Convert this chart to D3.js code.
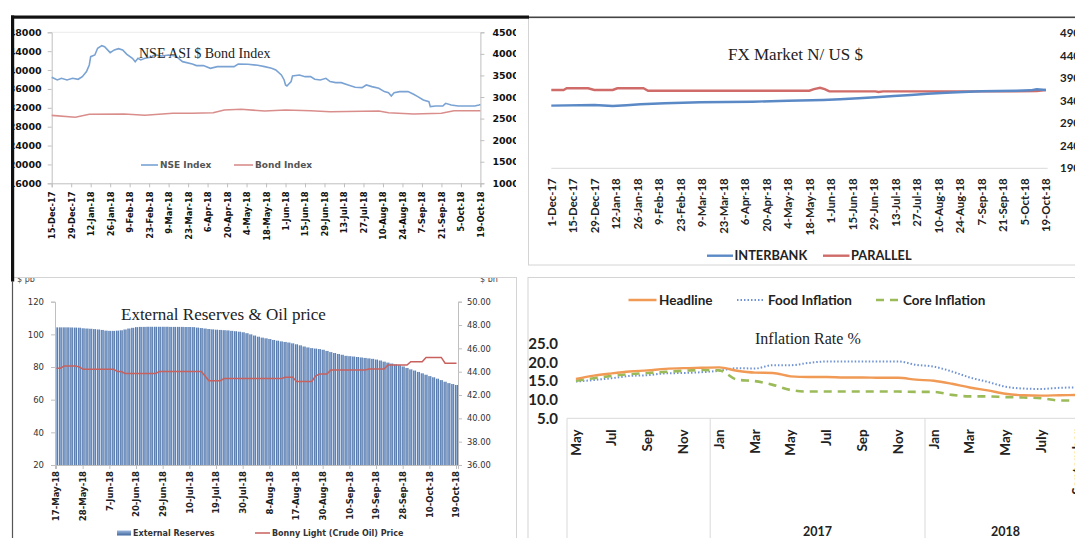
<!DOCTYPE html>
<html><head><meta charset="utf-8">
<script src="https://cdn.jsdelivr.net/npm/d3@7"></script>
<style>
html,body{margin:0;padding:0;background:#fff;}
svg{display:block;}
</style></head>
<body><svg id="c" width="1075" height="538"></svg>
<script>
// ---------- NSE ASI & Bond index ----------
const nseDates = ["2017-12-15","2017-12-19","2017-12-22","2017-12-26","2017-12-30","2018-01-03","2018-01-06","2018-01-09","2018-01-11","2018-01-12","2018-01-15","2018-01-17","2018-01-20","2018-01-22","2018-01-26","2018-01-29","2018-02-01","2018-02-04","2018-02-07","2018-02-11","2018-02-13","2018-02-15","2018-02-17","2018-02-20","2018-02-24","2018-02-27","2018-03-04","2018-03-09","2018-03-14","2018-03-19","2018-03-26","2018-03-29","2018-04-03","2018-04-08","2018-04-13","2018-04-18","2018-04-25","2018-04-28","2018-05-05","2018-05-12","2018-05-17","2018-05-22","2018-05-25","2018-05-29","2018-05-31","2018-06-01","2018-06-02","2018-06-05","2018-06-06","2018-06-11","2018-06-15","2018-06-19","2018-06-22","2018-06-26","2018-06-30","2018-07-03","2018-07-07","2018-07-11","2018-07-16","2018-07-21","2018-07-26","2018-07-29","2018-08-02","2018-08-07","2018-08-11","2018-08-14","2018-08-16","2018-08-18","2018-08-22","2018-08-28","2018-09-01","2018-09-04","2018-09-08","2018-09-12","2018-09-13","2018-09-17","2018-09-22","2018-09-24","2018-09-28","2018-10-03","2018-10-10","2018-10-15","2018-10-18","2018-10-19"];
const nseValues = [38460,37900,38250,37900,38250,38040,38600,39670,41080,42840,43200,44610,45170,44960,43690,44260,44540,44260,43340,42490,41780,42490,42140,42490,42700,43200,42980,43200,42980,41780,41290,40940,40940,40370,40720,40720,40720,41290,41220,41010,40720,40370,40020,38960,37900,36840,36630,37550,38750,38960,38600,38600,38040,37900,38250,37550,37330,37330,36840,36340,36270,36840,36490,36130,35430,35210,34510,35210,35430,35430,34860,34370,33660,33310,32250,32390,32390,32950,32600,32390,32390,32390,32600,32700];
const bondDates = ["2017-12-15","2018-01-01","2018-01-11","2018-02-05","2018-02-20","2018-03-12","2018-03-26","2018-04-10","2018-04-18","2018-04-30","2018-05-17","2018-06-01","2018-06-19","2018-07-03","2018-08-07","2018-08-14","2018-09-01","2018-09-21","2018-09-30","2018-10-19"];
const bondValues = [2574,2530,2600,2606,2576,2622,2622,2637,2699,2715,2676,2699,2683,2660,2676,2637,2606,2622,2683,2683];
const nseLeftTicks = [16000,20000,24000,28000,32000,36000,40000,44000,48000];
const nseRightTicks = [1000,1500,2000,2500,3000,3500,4000,4500];
const nseDateTicks = ["15-Dec-17","29-Dec-17","12-Jan-18","26-Jan-18","9-Feb-18","23-Feb-18","9-Mar-18","23-Mar-18","6-Apr-18","20-Apr-18","4-May-18","18-May-18","1-Jun-18","15-Jun-18","29-Jun-18","13-Jul-18","27-Jul-18","10-Aug-18","24-Aug-18","7-Sep-18","21-Sep-18","5-Oct-18","19-Oct-18"];

// ---------- FX market ----------
const interbankDates = ["2017-12-01","2017-12-29","2018-01-10","2018-01-19","2018-01-28","2018-02-13","2018-03-08","2018-04-11","2018-05-04","2018-05-27","2018-06-07","2018-06-19","2018-06-30","2018-07-12","2018-07-23","2018-08-03","2018-08-15","2018-08-26","2018-09-07","2018-09-18","2018-09-30","2018-10-09","2018-10-13","2018-10-19"];
const interbankValues = [329.2,330.7,328.4,330.0,332.2,334.4,336.7,338.0,340.2,341.8,343.3,345.6,347.8,350.7,352.9,355.8,358.0,359.6,361.1,361.8,362.4,363.3,365.5,364.0];
const parallelDates = ["2017-12-01","2017-12-09","2017-12-11","2017-12-25","2017-12-29","2018-01-10","2018-01-13","2018-01-30","2018-02-02","2018-05-18","2018-05-21","2018-05-25","2018-05-28","2018-05-31","2018-06-30","2018-07-02","2018-07-05","2018-09-07","2018-10-13","2018-10-19"];
const parallelValues = [364.0,364.0,367.8,367.8,364.0,364.0,367.8,367.8,362.4,362.4,366.0,369.0,366.0,361.0,361.0,359.5,361.0,361.0,361.5,364.0];
const fxValueTicks = [190,240,290,340,390,440,490];
const fxDateTicks = ["1-Dec-17","15-Dec-17","29-Dec-17","12-Jan-18","26-Jan-18","9-Feb-18","23-Feb-18","9-Mar-18","23-Mar-18","6-Apr-18","20-Apr-18","4-May-18","18-May-18","1-Jun-18","15-Jun-18","29-Jun-18","13-Jul-18","27-Jul-18","10-Aug-18","24-Aug-18","7-Sep-18","21-Sep-18","5-Oct-18","19-Oct-18"];

// ---------- External reserves & oil price (one value per trading day) ----------
const reserveDateTicks = ["17-May-18","28-May-18","7-Jun-18","20-Jun-18","29-Jun-18","10-Jul-18","19-Jul-18","30-Jul-18","8-Aug-18","17-Aug-18","30-Aug-18","10-Sep-18","19-Sep-18","28-Sep-18","10-Oct-18","19-Oct-18"];
const reservesBn = [47.80,47.80,47.80,47.80,47.79,47.78,47.77,
  47.72,47.70,47.68, 47.65,47.62,47.58, 47.52,47.50,47.50,47.52,47.55, 47.62,47.70,47.76,
  47.82,47.84,47.84,47.85,47.85,47.85,47.85,47.85,47.85,47.84,47.84,47.84,47.84,47.83,47.83,47.82,
  47.78,47.74,47.70, 47.66,47.63,47.60,47.58,47.56,47.54,47.50,47.47,47.43,
  47.38,47.30,47.20,47.10,47.00,46.92,46.86, 46.80,46.72,46.66,46.60,46.55,46.50,46.43,
  46.35,46.26,46.16,46.08,46.02,45.98,45.94, 45.88,45.78,45.68,45.60,45.52,45.45,45.36,
  45.33,45.30,45.26,45.22,45.18,45.14,45.10, 45.04,44.96,44.86,44.78,44.70,44.62,44.55,
  44.45,44.32,44.20,44.10,43.98,43.86,43.74, 43.62,43.52,43.40,43.28,43.14,43.02,42.94,42.86];
const bonnyLight = [79.2,79.2, 80.6,80.6,80.6,80.6, 80.0,
  78.6,78.6,78.6,78.6,78.6,78.6,78.6,78.6,78.6, 77.2,77.2,
  76.1,76.1,76.1,76.1,76.1,76.1,76.1,76.1,76.1,
  77.2,77.2,77.2,77.2,77.2,77.2,77.2,77.2,77.2,77.2,77.2,77.2, 74.5,
  71.6,71.6,71.6,71.6,
  72.9,72.9,72.9,72.9,72.9,72.9,72.9,72.9,72.9,72.9,72.9,72.9,72.9,72.9,72.9,72.9,
  73.7,73.7,73.7, 71.2,71.2,71.2,71.2,71.2, 74.5, 75.7,75.7,75.7,
  78.2,78.2,78.2,78.2,78.2,78.2,78.2,78.2,78.2,78.2, 78.8,78.8,78.8,78.8,78.8,
  81.2,81.2,81.2,81.2,81.2,81.2, 83.3,83.3,83.3,83.3, 85.9,85.9,85.9,85.9,85.9, 82.3,82.3,82.3,82.3];
const oilTicks = [20,40,60,80,100,120];
const reserveTicks = [36,38,40,42,44,46,48,50];

// ---------- Inflation ----------
const inflMonths = ["May","Jun","Jul","Aug","Sep","Oct","Nov","Dec",
  "Jan","Feb","Mar","Apr","May","Jun","Jul","Aug","Sep","Oct","Nov","Dec",
  "Jan","Feb","Mar","Apr","May","Jun","July","Aug","September"];
const inflYearLabels = ["", "2017", "2018"];
const inflYearLengths = [8, 12, 9];
const headline = [15.6,16.5,17.1,17.6,17.9,18.3,18.5,18.6, 18.7,17.8,17.3,17.2,16.3,16.1,16.1,16.0,16.0,15.9,15.9,15.4, 15.1,14.3,13.3,12.5,11.6,11.2,11.1,11.2,11.3];
const food = [14.9,15.3,15.8,16.4,16.6,17.1,17.2,17.4, 17.8,18.5,18.4,19.3,19.3,19.9,20.3,20.3,20.3,20.3,20.3,19.4, 18.9,17.6,16.0,14.8,13.5,13.0,12.9,13.2,13.3];
const core = [15.1,15.8,16.4,16.9,17.2,17.5,17.8,18.0, 17.9,15.4,15.0,14.0,12.6,12.2,12.2,12.2,12.2,12.2,12.2,12.1, 12.1,11.3,10.9,10.9,10.7,10.6,10.4,9.8,9.8];
const inflTicks = [5,10,15,20,25];

// ---------- drawing ----------
const SANS = "Lato, 'Open Sans', sans-serif";
const WIDE = "'DejaVu Sans', sans-serif";
const SERIF = "'Liberation Serif', 'Times New Roman', serif";
const AXIS = "#bfbfbf";

const svg = d3.select("#c");
const defs = svg.append("defs");
const iso = d3.timeParse("%Y-%m-%d");
const lbl = d3.timeParse("%d-%b-%y");

function clip(id, x, y, w, h) {
  defs.append("clipPath").attr("id", id).append("rect").attr("x", x).attr("y", y).attr("width", w).attr("height", h);
  return svg.append("g").attr("clip-path", `url(#${id})`);
}
function styleAxis(g, font, size, weight, color) {
  g.select(".domain").attr("stroke", AXIS);
  g.selectAll(".tick line").attr("stroke", AXIS);
  g.selectAll(".tick text").attr("font-family", font).attr("font-size", size)
    .attr("font-weight", weight).attr("fill", color);
}
function rotateLabels(g, offset) {
  g.selectAll(".tick text").attr("transform", "rotate(-90)").attr("text-anchor", "end")
    .attr("x", -offset).attr("y", 0).attr("dy", "0.35em");
}
function legendLine(g, x1, x2, y, color, width, dash) {
  const l = g.append("line").attr("x1", x1).attr("x2", x2).attr("y1", y).attr("y2", y)
    .attr("stroke", color).attr("stroke-width", width);
  if (dash) l.attr("stroke-dasharray", dash);
}
function legendText(g, x, y, text, font, size, color) {
  g.append("text").attr("x", x).attr("y", y).text(text).attr("font-family", font)
    .attr("font-size", size).attr("font-weight", "bold").attr("fill", color);
}

// Panel: NSE ASI & Bond Index
{
  const g = clip("c1", 14, 18, 502, 259);
  const x = d3.scaleTime().domain([iso("2017-12-15"), iso("2018-10-19")]).range([51.7, 480.4]);
  const yL = d3.scaleLinear().domain([16000, 48000]).range([183.3, 32.3]);
  const yR = d3.scaleLinear().domain([1000, 4500]).range([183.3, 32.3]);

  g.append("line").attr("x1", 51.7).attr("x2", 480.4).attr("y1", 32.3).attr("y2", 32.3).attr("stroke", "#ececec");

  const ax = g.append("g").attr("transform", "translate(51.7,0)")
    .call(d3.axisLeft(yL).tickValues(nseLeftTicks).tickSize(4).tickPadding(6).tickFormat(d3.format("d")));
  styleAxis(ax, WIDE, 9.5, "bold", "#111");
  const ar = g.append("g").attr("transform", "translate(480.4,0)")
    .call(d3.axisRight(yR).tickValues(nseRightTicks).tickSize(4).tickPadding(8).tickFormat(d3.format("d")));
  styleAxis(ar, WIDE, 9.5, "bold", "#111");
  const axb = g.append("g").attr("transform", "translate(0,183.3)")
    .call(d3.axisBottom(x).tickValues(nseDateTicks.map(lbl)).tickSize(4).tickFormat((d, i) => nseDateTicks[i]));
  styleAxis(axb, WIDE, 8.4, "bold", "#111");
  rotateLabels(axb, 8);

  const nse = nseDates.map((d, i) => [x(iso(d)), yL(nseValues[i])]);
  const bond = bondDates.map((d, i) => [x(iso(d)), yR(bondValues[i])]);
  g.append("path").attr("d", d3.line()(bond)).attr("fill", "none").attr("stroke", "#d98e8c").attr("stroke-width", 1.6);
  g.append("path").attr("d", d3.line()(nse)).attr("fill", "none").attr("stroke", "#7aa3d3").attr("stroke-width", 1.6);

  g.append("text").attr("x", 139).attr("y", 57.5).text("NSE ASI $ Bond Index")
    .attr("font-family", SERIF).attr("font-size", 14).attr("fill", "#222");
  legendLine(g, 141, 158, 165, "#7aa3d3", 1.6);
  legendText(g, 160, 168.3, "NSE Index", WIDE, 9, "#555");
  legendLine(g, 234, 253, 165, "#d98e8c", 1.6);
  legendText(g, 255, 168.3, "Bond Index", WIDE, 9, "#555");
}

// Panel: FX market
{
  svg.append("rect").attr("x", 528.5).attr("y", 18).attr("width", 600).attr("height", 247)
    .attr("fill", "#fff").attr("stroke", "#d4d4d4");
  const g = clip("c2", 529, 18, 546, 247);
  const x = d3.scaleTime().domain([iso("2017-12-01"), iso("2018-10-19")]).range([551.3, 1045.9]);
  const y = d3.scaleLinear().domain([190, 490]).range([168.3, 33.3]);

  g.append("line").attr("x1", 551.3).attr("x2", 1047.6).attr("y1", y(190)).attr("y2", y(190)).attr("stroke", "#d9d9d9");
  const ar = g.append("g").attr("transform", "translate(1050,0)")
    .call(d3.axisRight(y).tickValues(fxValueTicks).tickSize(0).tickPadding(10));
  ar.select(".domain").remove();
  styleAxis(ar, SANS, 11.5, "bold", "#222");
  const axb = g.append("g").attr("transform", "translate(0,168.3)")
    .call(d3.axisBottom(x).tickValues(fxDateTicks.map(lbl)).tickSize(0).tickFormat((d, i) => fxDateTicks[i]));
  axb.select(".domain").remove();
  styleAxis(axb, SANS, 11.4, "bold", "#222");
  rotateLabels(axb, 10);

  const inter = interbankDates.map((d, i) => [x(iso(d)), y(interbankValues[i])]);
  const par = parallelDates.map((d, i) => [x(iso(d)), y(parallelValues[i])]);
  g.append("path").attr("d", d3.line()(par)).attr("fill", "none").attr("stroke", "#cf6b68").attr("stroke-width", 2.4);
  g.append("path").attr("d", d3.line()(inter)).attr("fill", "none").attr("stroke", "#5a89c6").attr("stroke-width", 2.4);

  g.append("text").attr("x", 728).attr("y", 60).text("FX Market N/ US $")
    .attr("font-family", SERIF).attr("font-size", 17).attr("fill", "#222");
  legendLine(g, 707, 733, 255.7, "#5a89c6", 2.4);
  legendText(g, 734.5, 260.3, "INTERBANK", SANS, 12.8, "#222");
  legendLine(g, 823, 849.5, 255.7, "#cf6b68", 2.4);
  legendText(g, 851, 260.3, "PARALLEL", SANS, 12.8, "#222");
}

// Panel: external reserves & oil price
{
  svg.append("rect").attr("x", 12.5).attr("y", 277.5).attr("width", 504).attr("height", 280)
    .attr("fill", "#fff").attr("stroke", "#d4d4d4");
  const grad = defs.append("linearGradient").attr("id", "barGrad").attr("x1", 0).attr("x2", 1).attr("y1", 0).attr("y2", 0);
  grad.append("stop").attr("offset", 0).attr("stop-color", "#3a6199");
  grad.append("stop").attr("offset", 0.5).attr("stop-color", "#93b0d9");
  grad.append("stop").attr("offset", 1).attr("stop-color", "#3a6199");
  const lgrad = defs.append("linearGradient").attr("id", "legGrad").attr("x1", 0).attr("x2", 0).attr("y1", 0).attr("y2", 1);
  lgrad.append("stop").attr("offset", 0).attr("stop-color", "#9db8de");
  lgrad.append("stop").attr("offset", 1).attr("stop-color", "#3f679f");

  const g = clip("c3", 14, 278, 502, 260);
  const idx = d3.range(reservesBn.length);
  const x = d3.scaleBand().domain(idx).range([55, 458]).paddingInner(0.22);
  const yL = d3.scaleLinear().domain([20, 120]).range([465, 301.7]);
  const yR = d3.scaleLinear().domain([36, 50]).range([465, 301.7]);

  g.selectAll("rect.bar").data(reservesBn).join("rect").attr("class", "bar")
    .attr("x", (d, i) => x(i)).attr("width", x.bandwidth())
    .attr("y", d => yR(d)).attr("height", d => yR(36) - yR(d)).attr("fill", "url(#barGrad)");

  const ax = g.append("g").attr("transform", "translate(55,0)")
    .call(d3.axisLeft(yL).tickValues(oilTicks).tickSize(4).tickPadding(7));
  styleAxis(ax, WIDE, 8.5, "normal", "#333");
  const ar = g.append("g").attr("transform", "translate(458,0)")
    .call(d3.axisRight(yR).tickValues(reserveTicks).tickSize(4).tickPadding(5).tickFormat(d3.format(".2f")));
  styleAxis(ar, WIDE, 8.3, "normal", "#333");
  const tickIdx = reserveDateTicks.map((d, k) => k * 7);
  const axb = g.append("g").attr("transform", "translate(0,465)")
    .call(d3.axisBottom(x).tickValues(tickIdx).tickSize(4).tickFormat((d, k) => reserveDateTicks[k]));
  styleAxis(axb, WIDE, 8.5, "bold", "#222");
  rotateLabels(axb, 6);

  const oil = bonnyLight.map((v, i) => [x(i) + x.bandwidth() / 2, yL(v)]);
  g.append("path").attr("d", d3.line()(oil)).attr("fill", "none").attr("stroke", "#c8605d").attr("stroke-width", 1.5);

  g.append("text").attr("x", 17).attr("y", 282).text("$ pb").attr("font-family", WIDE).attr("font-size", 8).attr("fill", "#444");
  g.append("text").attr("x", 480).attr("y", 282).text("$ bn").attr("font-family", WIDE).attr("font-size", 8).attr("fill", "#444");
  g.append("text").attr("x", 121).attr("y", 320).text("External Reserves & Oil price")
    .attr("font-family", SERIF).attr("font-size", 17).attr("fill", "#222");
  g.append("rect").attr("x", 117).attr("y", 530.5).attr("width", 14).attr("height", 5).attr("fill", "url(#legGrad)");
  legendText(g, 133, 536.2, "External Reserves", WIDE, 8, "#333");
  legendLine(g, 255, 270, 533, "#c8605d", 1.5);
  legendText(g, 272, 536.2, "Bonny Light (Crude Oil) Price", WIDE, 8, "#333");
}

// Panel: inflation
{
  svg.append("rect").attr("x", 528).attr("y", 277.5).attr("width", 600).attr("height", 280)
    .attr("fill", "#fff").attr("stroke", "#d4d4d4");
  const g = clip("c4", 528.5, 278, 547, 260);
  const x = d3.scaleBand().domain(d3.range(inflMonths.length)).range([567, 567 + 17.9 * inflMonths.length]);
  const y = d3.scaleLinear().domain([5, 25]).range([418.3, 344]);

  g.append("line").attr("x1", 567).attr("x2", 1100).attr("y1", 418.3).attr("y2", 418.3).attr("stroke", "#d9d9d9");
  let start = 0;
  const bounds = [0];
  inflYearLengths.forEach(n => { start += n; bounds.push(start); });
  bounds.slice(0, -1).forEach(b => {
    g.append("line").attr("x1", x(b)).attr("x2", x(b)).attr("y1", 418.3).attr("y2", 540).attr("stroke", "#d9d9d9");
  });
  inflYearLabels.forEach((t, k) => {
    const cx = (x(bounds[k]) + x(bounds[k]) + inflYearLengths[k] * x.step()) / 2;
    g.append("text").attr("x", cx).attr("y", 536).attr("text-anchor", "middle").text(t)
      .attr("font-family", SANS).attr("font-size", 12.5).attr("font-weight", "bold").attr("fill", "#222");
  });

  const ay = g.append("g").attr("transform", "translate(567,0)")
    .call(d3.axisLeft(y).tickValues(inflTicks).tickSize(0).tickPadding(9).tickFormat(d3.format(".1f")));
  ay.select(".domain").remove();
  styleAxis(ay, SANS, 15, "bold", "#222");
  const axb = g.append("g").attr("transform", "translate(0,418.3)")
    .call(d3.axisBottom(x).tickValues(d3.range(0, inflMonths.length, 2)).tickSize(0).tickFormat(i => inflMonths[i]));
  axb.select(".domain").remove();
  styleAxis(axb, SANS, 13.5, "bold", "#222");
  rotateLabels(axb, 11);

  const pts = arr => arr.map((v, i) => [x(i) + x.bandwidth() / 2, y(v)]);
  const line = d3.line().curve(d3.curveMonotoneX);
  g.append("path").attr("d", line(pts(food))).attr("fill", "none").attr("stroke", "#6f93d2")
    .attr("stroke-width", 2).attr("stroke-dasharray", "1.5,2");
  g.append("path").attr("d", line(pts(core))).attr("fill", "none").attr("stroke", "#9bbb59")
    .attr("stroke-width", 2.6).attr("stroke-dasharray", "8,6");
  g.append("path").attr("d", line(pts(headline))).attr("fill", "none").attr("stroke", "#f09a55")
    .attr("stroke-width", 2.4);

  g.append("text").attr("x", 755).attr("y", 344).text("Inflation Rate %")
    .attr("font-family", SERIF).attr("font-size", 16).attr("fill", "#222");
  legendLine(g, 628.5, 656.5, 300, "#f09a55", 2.4);
  legendText(g, 659, 304.6, "Headline", SANS, 13.5, "#222");
  legendLine(g, 737, 763.5, 300, "#6f93d2", 2, "1.5,2");
  legendText(g, 768, 304.6, "Food Inflation", SANS, 13.5, "#222");
  legendLine(g, 876, 900, 300, "#9bbb59", 2.6, "8,6");
  legendText(g, 903, 304.6, "Core Inflation", SANS, 13.5, "#222");
}

// frame edges
svg.append("line").attr("x1", 529).attr("x2", 1075).attr("y1", 17.2).attr("y2", 17.2).attr("stroke", "#444").attr("stroke-width", 1.5);
svg.append("rect").attr("x", 11).attr("y", 15.5).attr("width", 518).attr("height", 3.2).attr("fill", "#111");
svg.append("rect").attr("x", 11).attr("y", 15.5).attr("width", 3.2).attr("height", 266).attr("fill", "#111");
svg.append("line").attr("x1", 12.5).attr("x2", 12.5).attr("y1", 281).attr("y2", 538).attr("stroke", "#555").attr("stroke-width", 1.2);
</script></body></html>
